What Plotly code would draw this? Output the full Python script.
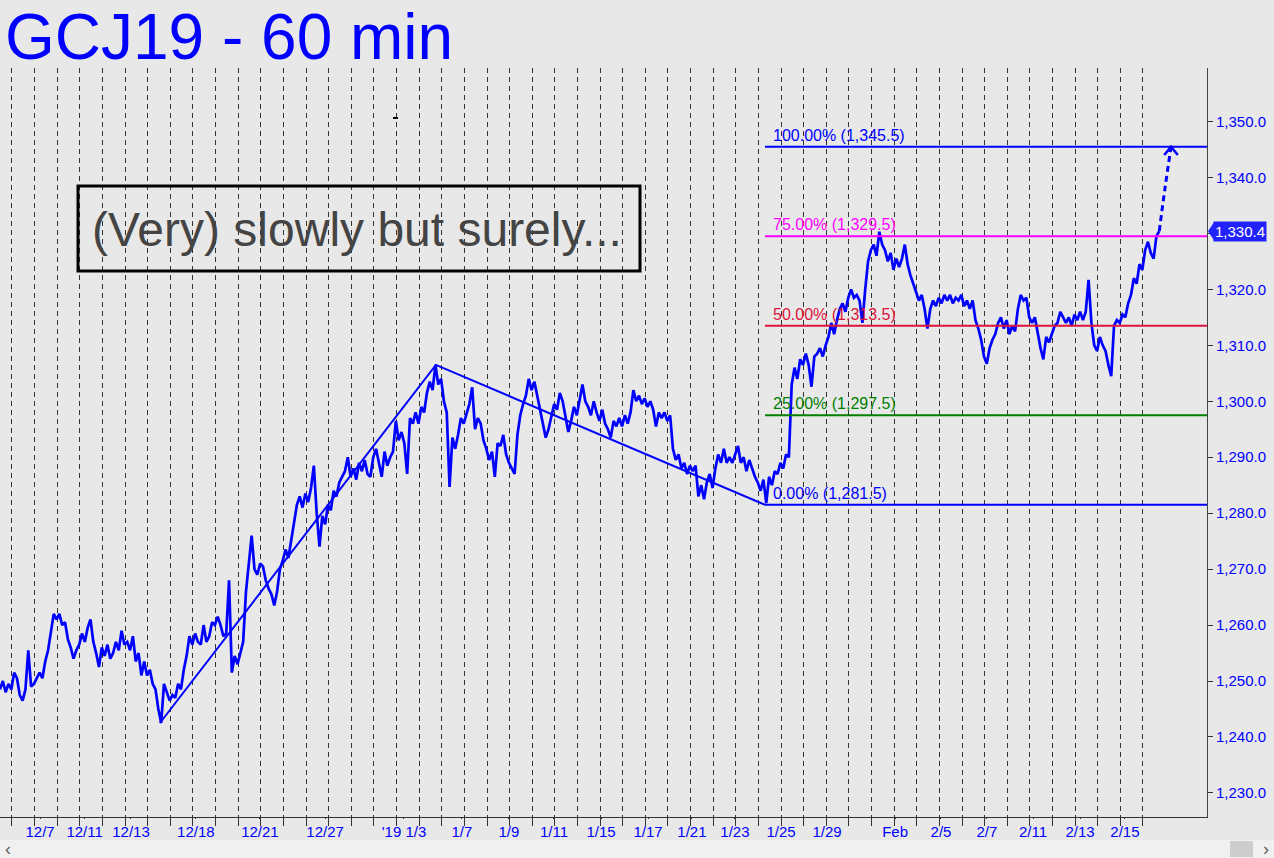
import plotly.graph_objects as go

# ---------------- data ----------------
DAY_STEP = 0.125  # samples every eighth of a trading day
price = [
    1248.5, 1250, 1248, 1249.5, 1248.5, 1251.5, 1250.5, 1247.5, 1246.5, 1248.5,
    1255.5, 1249, 1249.5, 1250.5, 1251.5, 1250.5, 1253.5, 1255.5, 1258.5, 1262,
    1261, 1262, 1260, 1260.5, 1257.5, 1256, 1254, 1255.5, 1256.5, 1258.5,
    1257, 1259.5, 1261, 1257, 1255, 1252.5, 1256, 1254.5, 1256.5, 1254,
    1255, 1257, 1255.5, 1259, 1256.5, 1257, 1255.5, 1258, 1253.5, 1255,
    1251, 1253.5, 1251, 1252, 1249.5, 1248.5, 1245, 1242.5, 1249.5, 1248,
    1246.5, 1247.5, 1247, 1249.5, 1248.5, 1252, 1254.5, 1258, 1256.5, 1258.5,
    1257, 1256.5, 1260, 1257, 1258, 1260.5, 1260, 1261.5, 1260, 1258,
    1258.5, 1268, 1251.5, 1254.5, 1253, 1255, 1257, 1266, 1271.5, 1276,
    1270, 1269, 1271, 1270.5, 1268, 1266.5, 1265.5, 1263.5, 1266, 1270,
    1271.5, 1273.5, 1272, 1275, 1278, 1281.5, 1283, 1281, 1283.5, 1282,
    1284.5, 1288.5, 1280, 1274, 1279.5, 1278, 1281.5, 1280.5, 1284, 1283,
    1285.5, 1286.5, 1287.5, 1290, 1286.5, 1288, 1286, 1289, 1287.5, 1289.5,
    1287, 1286.5, 1290, 1291.5, 1289, 1286.5, 1291, 1288.5, 1290, 1291,
    1296.5, 1293, 1294.5, 1292.5, 1287, 1297, 1296, 1298, 1296, 1299,
    1298, 1301.5, 1303.5, 1302, 1306.5, 1303, 1304, 1300, 1298, 1284.7,
    1293.5, 1291.5, 1294, 1297, 1296, 1298, 1299.5, 1302.5, 1295, 1297,
    1296, 1293, 1291.5, 1289.5, 1291, 1286.5, 1292.5, 1292, 1294, 1290.5,
    1289, 1288, 1287, 1294, 1297.5, 1299.5, 1301, 1304, 1302, 1303.5,
    1301, 1298, 1296, 1293.5, 1295, 1297.5, 1299.5, 1298.5, 1301.5, 1300,
    1297, 1294.5, 1296.5, 1299, 1297.5, 1300.5, 1303, 1300, 1299, 1297.5,
    1300, 1298, 1296.5, 1298.5, 1296, 1295, 1293.5, 1296.5, 1295.5, 1297,
    1295.5, 1297.5, 1296, 1298, 1302, 1300, 1301, 1299.5, 1300.5, 1299,
    1300, 1298.5, 1295.5, 1298, 1297, 1298, 1296.5, 1297.5, 1291.5, 1289.5,
    1290.5, 1288, 1289, 1287, 1288.5, 1287.5, 1288.5, 1283, 1285, 1282.5,
    1285.5, 1287, 1284.5, 1288, 1290.5, 1289, 1291.5, 1289, 1290, 1289,
    1290.5, 1292, 1289, 1290, 1287.5, 1289.5, 1288, 1286.5, 1285.5, 1284,
    1286, 1281.8, 1286.5, 1285, 1287.5, 1287, 1289, 1288, 1290.5, 1290,
    1303, 1306, 1304, 1307.5, 1306.5, 1308.5, 1306.5, 1302.6, 1308, 1308.5,
    1309.5, 1308, 1310, 1311.5, 1314, 1312, 1314.5, 1316.5, 1317.5, 1316,
    1318.5, 1320, 1318.5, 1319, 1318, 1314, 1320, 1325, 1327, 1328,
    1326, 1330.3, 1328, 1327, 1325, 1326.5, 1323.5, 1325.5, 1324, 1325.5,
    1328, 1324.5, 1322.5, 1321, 1319.5, 1318, 1319, 1316.5, 1313, 1316.5,
    1318, 1317, 1318.5, 1317.5, 1319, 1318, 1319, 1317.5, 1318.5, 1318,
    1319, 1317, 1318, 1316.5, 1318, 1314.5, 1313, 1311, 1308, 1306.7,
    1309.5, 1311, 1312, 1314, 1315, 1313, 1314.5, 1312, 1313.5, 1312.5,
    1316.5, 1319, 1318, 1318.5, 1315, 1314, 1315, 1312, 1309.5, 1307.5,
    1311.5, 1310.5, 1312, 1313.5, 1314, 1316, 1315, 1314, 1315, 1313.5,
    1315.5, 1314.5, 1316, 1314.5, 1316, 1321.7, 1314, 1310, 1309, 1311.5,
    1310, 1309, 1306.5, 1304.5, 1313.5, 1314.5, 1314, 1315.5, 1315, 1317.5,
    1319, 1322, 1321, 1324.5, 1323.5, 1327, 1328.5, 1326.5, 1325.5, 1329.5,
    1330.4,
]
days = [i * DAY_STEP for i in range(len(price))]

pivot_days = [7.07, 19.27, 33.82]
pivot_prices = [1242.5, 1306.5, 1281.5]

fib_start_day = 33.82
fib_levels = [1281.5, 1297.5, 1313.5, 1329.5, 1345.5]
fib_pcts = ["0.00%", "25.00%", "50.00%", "75.00%", "100.00%"]
fib_colors = ["#0000ff", "#008000", "#dc143c", "#ff00ff", "#0000ff"]

proj_days = [51.25, 51.5, 51.77]
proj_prices = [1330.4, 1338.0, 1345.5]

tick_days = [1.77, 3.74, 5.79, 8.66, 11.49, 14.37, 17.86, 20.42, 22.5, 24.49,
             26.57, 28.65, 30.59, 32.49, 34.53, 36.56, 39.57, 41.6, 43.63,
             45.67, 47.75, 49.73]
tick_labels = ["12/7", "12/11", "12/13", "12/18", "12/21", "12/27", "'19 1/3",
               "1/7", "1/9", "1/11", "1/15", "1/17", "1/21", "1/23", "1/25",
               "1/29", "Feb", "2/5", "2/7", "2/11", "2/13", "2/15"]
grid_days = [0.53 + k for k in range(51)]

last_price = 1330.4
X_MAX = 53.36
Y_MIN, Y_MAX = 1225.7, 1359.56

BLUE = "#0000ff"
BG = "#e8e8e8"
FONT = "Liberation Sans, Arial, sans-serif"

fig = go.Figure()

# price line
fig.add_trace(go.Scatter(x=days, y=price, mode="lines",
                         line=dict(color=BLUE, width=2.7), hoverinfo="skip"))
# trend lines
fig.add_trace(go.Scatter(x=pivot_days, y=pivot_prices, mode="lines",
                         line=dict(color=BLUE, width=2), hoverinfo="skip"))
# projection
fig.add_trace(go.Scatter(x=proj_days, y=proj_prices, mode="lines",
                         line=dict(color=BLUE, width=3, dash="6px,4px", shape="spline"),
                         hoverinfo="skip"))
# arrow head (open chevron)
tip_x, tip_y = proj_days[-1], proj_prices[-1]
fig.add_trace(go.Scatter(x=[tip_x - 0.3, tip_x, tip_x + 0.3],
                         y=[tip_y - 1.5, tip_y, tip_y - 1.5], mode="lines",
                         line=dict(color=BLUE, width=2.5), hoverinfo="skip"))

shapes = []
annotations = []

# fib lines
for lvl, pct, col in zip(fib_levels, fib_pcts, fib_colors):
    shapes.append(dict(type="line", xref="x", yref="y", x0=fib_start_day, x1=X_MAX,
                       y0=lvl, y1=lvl, line=dict(color=col, width=2)))
    annotations.append(dict(xref="x", yref="y", x=fib_start_day, y=lvl,
                            xanchor="left", yanchor="bottom", xshift=6, yshift=1,
                            text=f"{pct} ({lvl:,.1f})", showarrow=False,
                            font=dict(family=FONT, size=16, color=col)))

# text box
shapes.append(dict(type="rect", xref="paper", yref="paper",
                   x0=78 / 1207, x1=640 / 1207, y0=(817 - 271) / 749, y1=(817 - 186) / 749,
                   line=dict(color="#000000", width=3), fillcolor="rgba(0,0,0,0)"))
annotations.append(dict(xref="paper", yref="paper", x=357 / 1207, y=(817 - 229) / 749,
                        xanchor="center", yanchor="middle", showarrow=False,
                        text="(Very) slowly but surely...",
                        font=dict(family=FONT, size=48, color="#444444")))

# title
annotations.append(dict(xref="paper", yref="paper", x=3 / 1207, y=(817 - 37) / 749,
                        xanchor="left", yanchor="middle", showarrow=False,
                        text="GCJ19 - 60 min",
                        font=dict(family=FONT, size=64, color=BLUE)))

# tiny dash artifact
shapes.append(dict(type="line", xref="paper", yref="paper", x0=393 / 1207, x1=398 / 1207,
                   y0=(817 - 118) / 749, y1=(817 - 118) / 749,
                   line=dict(color="#000000", width=2)))

# last price tag
annotations.append(dict(xref="paper", yref="y", x=1, y=last_price, xanchor="left",
                        yanchor="middle", xshift=6, showarrow=False,
                        text=f"{last_price:,.1f}", bgcolor="#2222ff", borderpad=1,
                        font=dict(family=FONT, size=15, color="#ffffff")))
shapes.append(dict(type="path", xref="paper", yref="y", xanchor=1, yanchor=last_price,
                   xsizemode="pixel", ysizemode="pixel",
                   path="M 1 0 L 7 -9 L 7 9 Z", fillcolor="#2222ff",
                   line=dict(width=0)))

# scrollbar
shapes.append(dict(type="rect", xref="paper", yref="paper", x0=-0.01, x1=1.06,
                   y0=-0.06, y1=(817 - 840) / 749, fillcolor="#f0f0f0",
                   line=dict(width=0), layer="below"))
shapes.append(dict(type="rect", xref="paper", yref="paper", x0=1230 / 1207, x1=1253 / 1207,
                   y0=(817 - 857) / 749, y1=(817 - 841) / 749, fillcolor="#cdcdcd",
                   line=dict(width=0)))
annotations.append(dict(xref="paper", yref="paper", x=8 / 1207, y=(817 - 849) / 749,
                        xanchor="center", yanchor="middle", showarrow=False, text="‹",
                        font=dict(family=FONT, size=18, color="#606060")))
annotations.append(dict(xref="paper", yref="paper", x=1266 / 1207, y=(817 - 849) / 749,
                        xanchor="center", yanchor="middle", showarrow=False, text="›",
                        font=dict(family=FONT, size=18, color="#606060")))

fig.update_layout(
    width=1274, height=858,
    margin=dict(l=0, r=67, t=68, b=41),
    paper_bgcolor=BG, plot_bgcolor=BG,
    showlegend=False,
    shapes=shapes, annotations=annotations,
    xaxis=dict(range=[0, X_MAX], tickmode="array", tickvals=tick_days, ticktext=tick_labels,
               showgrid=False, zeroline=False, showline=True, linecolor="#333333",
               linewidth=1, ticks="outside", ticklen=1, tickcolor="#333333",
               tickfont=dict(family=FONT, size=15, color=BLUE),
               minor=dict(tickmode="array", tickvals=grid_days, showgrid=True,
                          gridcolor="#333333", gridwidth=1, griddash="5px,4px",
                          ticks="outside", ticklen=8, tickcolor="#333333")),
    yaxis=dict(range=[Y_MIN, Y_MAX], side="right", tick0=1230, dtick=10,
               tickformat=",.1f", showgrid=False, zeroline=False, showline=True,
               linecolor="#444444", linewidth=1, ticks="outside", ticklen=5,
               tickcolor="#333333", tickfont=dict(family=FONT, size=15, color=BLUE)),
)

fig.write_html("out.html", config={"displayModeBar": False},
               post_script="document.body.style.margin='0';document.body.style.overflow='hidden';")
